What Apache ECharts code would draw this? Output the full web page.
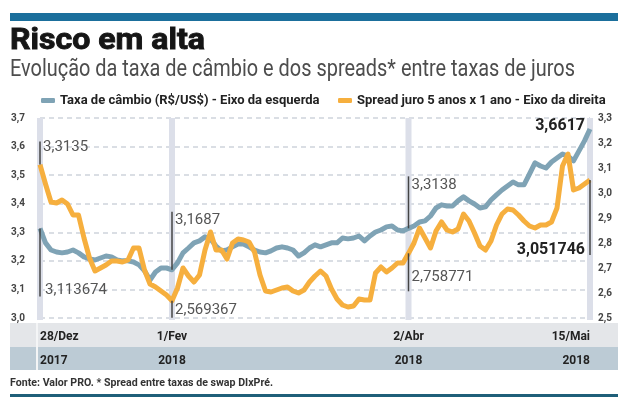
<!DOCTYPE html>
<html><head><meta charset="utf-8">
<script src="https://cdn.jsdelivr.net/npm/echarts@6/dist/echarts.min.js"></script>
<style>html,body{margin:0;padding:0;background:#fff}#c{width:623px;height:399px}</style>
</head><body><div id="c"></div>
<script>
// ---- DATA ----
const seriesNames = ['Taxa de câmbio (R$/US$) - Eixo da esquerda', 'Spread juro 5 anos x 1 ano - Eixo da direita'];
const tickIndex = [0, 24, 67, 100];
const tickDates = ['28/Dez', '1/Fev', '2/Abr', '15/Mai'];
const tickYears = ['2017', '2018', '2018', '2018'];
const cambio = [3.3135,3.263,3.238,3.231,3.228,3.231,3.238,3.228,3.214,3.207,
  3.203,3.210,3.217,3.214,3.203,3.200,3.200,3.196,3.186,3.165,
  3.133,3.161,3.175,3.175,3.1687,3.193,3.228,3.245,3.263,3.270,
  3.284,3.277,3.252,3.235,3.238,3.249,3.259,3.259,3.249,3.238,
  3.231,3.228,3.235,3.245,3.249,3.245,3.238,3.217,3.228,3.245,
  3.256,3.249,3.256,3.263,3.263,3.280,3.277,3.280,3.287,3.270,
  3.287,3.301,3.308,3.319,3.322,3.308,3.305,3.3138,3.322,3.336,
  3.340,3.357,3.385,3.396,3.392,3.392,3.410,3.424,3.410,3.399,
  3.385,3.389,3.413,3.431,3.448,3.462,3.476,3.466,3.466,3.504,
  3.543,3.532,3.525,3.546,3.560,3.574,3.567,3.550,3.585,3.620,3.6617];
const spread = [3.113674,3.036,2.964,2.960,2.972,2.956,2.912,2.912,2.820,2.740,
  2.688,2.700,2.712,2.728,2.728,2.724,2.732,2.780,2.780,2.692,
  2.636,2.624,2.608,2.592,2.569367,2.620,2.700,2.668,2.644,2.672,
  2.772,2.844,2.772,2.772,2.736,2.800,2.816,2.812,2.804,2.764,
  2.672,2.608,2.604,2.612,2.620,2.624,2.608,2.600,2.612,2.644,
  2.668,2.688,2.668,2.616,2.576,2.552,2.544,2.548,2.576,2.572,
  2.572,2.680,2.704,2.684,2.700,2.720,2.720,2.758771,2.800,2.860,
  2.820,2.780,2.848,2.884,2.852,2.844,2.856,2.916,2.888,2.840,
  2.788,2.772,2.808,2.872,2.916,2.936,2.932,2.912,2.888,2.868,
  2.860,2.872,2.872,2.884,2.940,3.108,3.156,3.012,3.020,3.036,3.051746];
const categories = cambio.map((_, i) => String(i));
const titleText = 'Risco em alta';
const subtitleText = 'Evolução da taxa de câmbio e dos spreads* entre taxas de juros';
const sourceText = 'Fonte: Valor PRO. * Spread entre taxas de swap DIxPré.';

// ---- STYLE ----
const BLUE = '#7fa3b5', ORANGE = '#f6af3e';
const FONT = 'Roboto, "Liberation Sans", sans-serif';
const fmt = v => String(v).replace('.', ',');
const mctx = document.createElement('canvas').getContext('2d');
function textW(text, font) { mctx.font = font; return mctx.measureText(text).width; }
function fitScale(text, font, target) { return target / textW(text, font); }

const LEG_FS = 13;
const legW1 = textW(seriesNames[0], 'bold ' + LEG_FS + 'px ' + FONT);
const legLeft = 36, legIcon = 14;
const legGap = Math.max(8, 333 - (legLeft + legIcon + 5 + legW1));

const chart = echarts.init(document.getElementById('c'), null, {renderer: 'canvas'});
chart.setOption({
  animation: false,
  backgroundColor: '#fff',
  grid: {left: 40, right: 33, top: 118, bottom: 81},
  legend: {
    left: legLeft, top: 89, itemWidth: legIcon, itemHeight: 5, itemGap: legGap, icon: 'roundRect',
    textStyle: {fontFamily: FONT, fontSize: LEG_FS, fontWeight: 'bold', color: '#222'},
    data: seriesNames
  },
  xAxis: {
    type: 'category', data: categories, boundaryGap: false,
    axisLine: {show: false}, axisTick: {show: false}, splitLine: {show: false},
    axisLabel: {
      interval: (i) => tickIndex.includes(i), margin: 7,
      alignMinLabel: 'left', alignMaxLabel: 'right',
      formatter: (v) => { const k = tickIndex.indexOf(Number(v)); return k < 0 ? '' : '{d|' + tickDates[k] + '}\n{y|' + tickYears[k] + '}'; },
      rich: {
        d: {fontFamily: FONT, fontSize: 12, fontWeight: 'bold', color: '#222', lineHeight: 24},
        y: {fontFamily: FONT, fontSize: 12, fontWeight: 'bold', color: '#222', lineHeight: 24}
      }
    }
  },
  yAxis: [
    {type: 'value', min: 3.0, max: 3.7, interval: 0.1, position: 'left',
     axisLine: {show: false}, axisTick: {show: false},
     axisLabel: {margin: 15, fontFamily: FONT, fontSize: 10, fontWeight: 'bold', color: '#444', formatter: v => v.toFixed(1).replace('.', ',')},
     splitLine: {lineStyle: {color: '#ced3db', width: 1.5, type: [5, 4]}}},
    {type: 'value', min: 2.5, max: 3.3, interval: 0.1, position: 'right',
     axisLine: {show: false}, axisTick: {show: false}, splitLine: {show: false},
     axisLabel: {margin: 8, fontFamily: FONT, fontSize: 10, fontWeight: 'bold', color: '#444', formatter: v => v.toFixed(1).replace('.', ',')}}
  ],
  series: [
    {name: seriesNames[0], type: 'line', yAxisIndex: 0, data: cambio, symbol: 'none', z: 3,
     lineStyle: {color: BLUE, width: 5, join: 'round'}, itemStyle: {color: BLUE}},
    {name: seriesNames[1], type: 'line', yAxisIndex: 1, data: spread, symbol: 'none', z: 4,
     lineStyle: {color: ORANGE, width: 5, join: 'round'}, itemStyle: {color: ORANGE}}
  ]
});

// ---- ANNOTATIONS via library scales ----
const g = [];
g.push({type: 'rect', z: 1, shape: {x: 10, y: 13, width: 608, height: 8}, style: {fill: '#1b6f9c'}});
const tFont = 'bold 30px ' + FONT;
g.push({type: 'text', z: 10, x: 10, y: 56, scaleX: fitScale(titleText, tFont, 195),
  style: {text: titleText, font: tFont, fill: '#151515', stroke: '#151515', lineWidth: 0.9, align: 'left', verticalAlign: 'bottom'}});
const sFont = '23px ' + FONT;
g.push({type: 'text', z: 10, x: 10, y: 82, scaleX: fitScale(subtitleText, sFont, 565),
  style: {text: subtitleText, font: sFont, fill: '#4d4d4d', align: 'left', verticalAlign: 'bottom'}});
g.push({type: 'rect', z: 0, shape: {x: 10, y: 323, width: 608, height: 24}, style: {fill: '#e4e6e9'}});
g.push({type: 'rect', z: 0, shape: {x: 10, y: 347, width: 608, height: 23}, style: {fill: '#bccbd5'}});
g.push({type: 'rect', z: 0, shape: {x: 36, y: 323, width: 2, height: 47}, style: {fill: '#f4f5f6'}});
const fFont = 'bold 10px ' + FONT;
g.push({type: 'text', z: 10, x: 10, y: 383, scaleX: fitScale(sourceText, fFont, 263),
  style: {text: sourceText, font: fFont, fill: '#333', align: 'left', verticalAlign: 'middle'}});
g.push({type: 'rect', z: 1, shape: {x: 10, y: 394, width: 608, height: 3}, style: {fill: '#1f5f79'}});

const markLayout = [
  {b: {anchor: 'o', dy: -17, seg: [-23, 0], align: 'left', dx: 3}, o: {anchor: 'b', dy: 62, seg: [0, 68], align: 'left', dx: 5}},
  {b: {anchor: 'b', dy: -50, seg: [-58, 0], align: 'left', dx: 3}, o: {anchor: 'o', dy: 10, seg: [0, 17], align: 'left', dx: 3}},
  {b: {anchor: 'b', dy: -43, seg: [-52, 0], align: 'left', dx: 3}, o: {anchor: 'o', dy: 24, seg: [0, 38], align: 'left', dx: 3}},
  {b: {anchor: 'b', dy: -3, seg: null, align: 'right', dx: -5, bold: true}, o: {anchor: 'o', dy: 70, seg: [0, 75], align: 'right', dx: -5, bold: true}}
];
const yTop = chart.convertToPixel({xAxisIndex: 0, yAxisIndex: 0}, [0, 3.7])[1];
const yBot = chart.convertToPixel({xAxisIndex: 0, yAxisIndex: 0}, [0, 3.0])[1];
tickIndex.forEach((idx, k) => {
  const bp = chart.convertToPixel({seriesIndex: 0}, [idx, cambio[idx]]);
  const op = chart.convertToPixel({seriesIndex: 1}, [idx, spread[idx]]);
  const x = bp[0];
  g.push({type: 'rect', z: 0, shape: {x: x - 3, y: yTop, width: 6, height: yBot - yTop + 2}, style: {fill: '#dcdfe9'}});
  const L = markLayout[k];
  [['b', cambio[idx]], ['o', spread[idx]]].forEach(([key, val]) => {
    const s = L[key];
    const ay = (s.anchor === 'b' ? bp : op)[1];
    if (s.seg) g.push({type: 'line', z: 20, shape: {x1: x, y1: ay + s.seg[0], x2: x, y2: ay + s.seg[1]}, style: {stroke: '#444', lineWidth: 1.5}});
    const font = (s.bold ? 'bold 16px ' : '15px ') + FONT;
    g.push({type: 'text', z: 20, x: x + s.dx, y: ay + s.dy,
      style: {text: fmt(val), font: font, fill: s.bold ? '#222' : '#555', align: s.align, verticalAlign: 'middle'}});
  });
});
chart.setOption({graphic: {elements: g}});
</script></body></html>
